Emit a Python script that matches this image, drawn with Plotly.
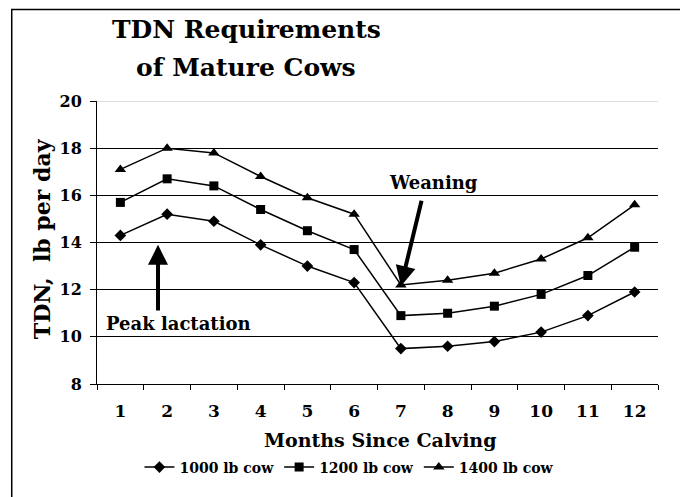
import plotly.graph_objects as go

months = ["1", "2", "3", "4", "5", "6", "7", "8", "9", "10", "11", "12"]
cow_1000 = [14.3, 15.2, 14.9, 13.9, 13.0, 12.3, 9.5, 9.6, 9.8, 10.2, 10.9, 11.9]
cow_1200 = [15.7, 16.7, 16.4, 15.4, 14.5, 13.7, 10.9, 11.0, 11.3, 11.8, 12.6, 13.8]
cow_1400 = [17.1, 18.0, 17.8, 16.8, 15.9, 15.2, 12.2, 12.4, 12.7, 13.3, 14.2, 15.6]
series_names = ["1000 lb cow", "1200 lb cow", "1400 lb cow"]
y_ticks = [8, 10, 12, 14, 16, 18, 20]

FONT = "DejaVu Serif"

fig = go.Figure()
symbols = ["diamond", "square", "triangle-up"]
sizes = [9, 9, 10]
for name, vals, sym, sz in zip(series_names, [cow_1000, cow_1200, cow_1400], symbols, sizes):
    fig.add_trace(go.Scatter(
        x=months, y=vals, name=name, mode="lines+markers",
        line=dict(color="black", width=1.5),
        marker=dict(symbol=sym, size=sz, color="black"),
    ))

fig.update_layout(
    width=680, height=489,
    margin=dict(l=89, r=30, t=93, b=113),
    paper_bgcolor="white", plot_bgcolor="white",
    font=dict(family=FONT, color="black"),
    showlegend=True,
    legend=dict(orientation="h", x=0.45, xanchor="center", y=-0.295, yanchor="middle",
                font=dict(size=14, family=FONT, weight="bold"),
                itemwidth=30, tracegroupgap=0),
)

fig.update_xaxes(
    type="category", tickson="boundaries", ticks="outside", ticklen=5,
    tickcolor="black", showline=True, linecolor="black", linewidth=1,
    showgrid=False, tickfont=dict(size=17, family=FONT, weight="bold"),
    ticklabelstandoff=12, range=[-0.5, 11.5],
)
fig.update_yaxes(
    range=[8, 20], tickvals=y_ticks, ticks="outside", ticklen=6,
    tickcolor="black", showline=True, linecolor="black", linewidth=1,
    showgrid=True, gridcolor="black", gridwidth=1, zeroline=False,
    tickfont=dict(size=16, family=FONT, weight="bold"),
    ticklabelstandoff=5,
)

fig.add_shape(type="line", xref="paper", yref="y", x0=0, x1=1, y0=20, y1=20,
              line=dict(color="#c0c0c0", width=1), layer="above")

fig.add_shape(type="rect", xref="paper", yref="paper",
              x0=-0.152, x1=1.5, y0=-1.0, y1=1.3237,
              line=dict(color="black", width=1.5), layer="below")

fig.add_annotation(text="<b>TDN Requirements</b>", xref="paper", yref="paper",
                   x=(246 - 97) / 561, y=(384 - 29) / 283.3, showarrow=False,
                   font=dict(size=25, family=FONT), xanchor="center", yanchor="middle")
fig.add_annotation(text="<b>of Mature Cows</b>", xref="paper", yref="paper",
                   x=(246 - 97) / 561, y=(384 - 67) / 283.3, showarrow=False,
                   font=dict(size=25, family=FONT), xanchor="center", yanchor="middle")

fig.add_annotation(text="<b>TDN,&nbsp; lb per day</b>", xref="paper", yref="paper",
                   x=(42 - 97) / 561, y=(384 - 239) / 283.3, showarrow=False, textangle=-90,
                   font=dict(size=22, family=FONT), xanchor="center", yanchor="middle")
fig.add_annotation(text="<b>Months Since Calving</b>", xref="paper", yref="paper",
                   x=(380 - 97) / 561, y=(384 - 440) / 283.3, showarrow=False,
                   font=dict(size=19, family=FONT), xanchor="center", yanchor="middle")

fig.add_annotation(text="<b>Peak lactation</b>", x=1.25, y=10.58, xref="x", yref="y",
                   showarrow=False, font=dict(size=18, family=FONT))
fig.add_annotation(text="", x=0.805, y=13.9, ax=0.805, ay=11.05, xref="x", yref="y",
                   axref="x", ayref="y", showarrow=True, arrowhead=2, arrowsize=1,
                   arrowwidth=4, arrowcolor="black", standoff=0)
fig.add_annotation(text="<b>Weaning</b>", x=6.69, y=16.56, xref="x", yref="y",
                   showarrow=False, font=dict(size=18, family=FONT))
fig.add_annotation(text="", x=6.0, y=12.15, ax=6.45, ay=15.83, xref="x", yref="y",
                   axref="x", ayref="y", showarrow=True, arrowhead=2, arrowsize=1,
                   arrowwidth=4, arrowcolor="black", standoff=0)

fig.write_html("out.html")
